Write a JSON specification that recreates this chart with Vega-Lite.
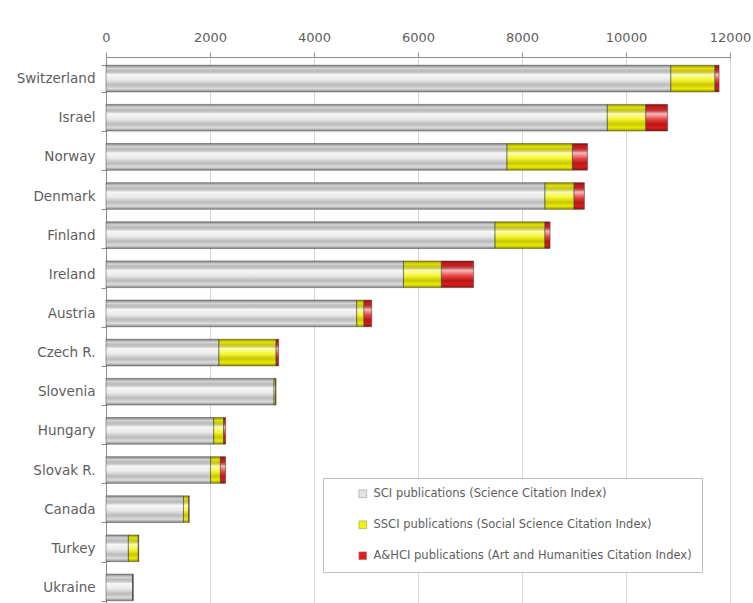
{
  "$schema": "https://vega.github.io/schema/vega-lite/v6.json",
  "width": 624,
  "height": 546,
  "autosize": "none",
  "padding": {"left": 106, "top": 57, "right": 23, "bottom": 0},
  "background": "white",
  "config": {
    "view": {"stroke": "#a6a6a6", "strokeWidth": 1},
    "font": "DejaVu Sans"
  },
  "data": {
    "values": [
      {"country": "Switzerland", "series": "SCI publications (Science Citation Index)", "value": 10860},
      {"country": "Switzerland", "series": "SSCI publications (Social Science Citation Index)", "value": 850},
      {"country": "Switzerland", "series": "A&HCI publications (Art and Humanities Citation Index)", "value": 80},
      {"country": "Israel", "series": "SCI publications (Science Citation Index)", "value": 9640},
      {"country": "Israel", "series": "SSCI publications (Social Science Citation Index)", "value": 740},
      {"country": "Israel", "series": "A&HCI publications (Art and Humanities Citation Index)", "value": 420},
      {"country": "Norway", "series": "SCI publications (Science Citation Index)", "value": 7710},
      {"country": "Norway", "series": "SSCI publications (Social Science Citation Index)", "value": 1260},
      {"country": "Norway", "series": "A&HCI publications (Art and Humanities Citation Index)", "value": 290},
      {"country": "Denmark", "series": "SCI publications (Science Citation Index)", "value": 8440},
      {"country": "Denmark", "series": "SSCI publications (Social Science Citation Index)", "value": 560},
      {"country": "Denmark", "series": "A&HCI publications (Art and Humanities Citation Index)", "value": 200},
      {"country": "Finland", "series": "SCI publications (Science Citation Index)", "value": 7480},
      {"country": "Finland", "series": "SSCI publications (Social Science Citation Index)", "value": 960},
      {"country": "Finland", "series": "A&HCI publications (Art and Humanities Citation Index)", "value": 100},
      {"country": "Ireland", "series": "SCI publications (Science Citation Index)", "value": 5720},
      {"country": "Ireland", "series": "SSCI publications (Social Science Citation Index)", "value": 730},
      {"country": "Ireland", "series": "A&HCI publications (Art and Humanities Citation Index)", "value": 620},
      {"country": "Austria", "series": "SCI publications (Science Citation Index)", "value": 4820},
      {"country": "Austria", "series": "SSCI publications (Social Science Citation Index)", "value": 140},
      {"country": "Austria", "series": "A&HCI publications (Art and Humanities Citation Index)", "value": 150},
      {"country": "Czech R.", "series": "SCI publications (Science Citation Index)", "value": 2170},
      {"country": "Czech R.", "series": "SSCI publications (Social Science Citation Index)", "value": 1100},
      {"country": "Czech R.", "series": "A&HCI publications (Art and Humanities Citation Index)", "value": 50},
      {"country": "Slovenia", "series": "SCI publications (Science Citation Index)", "value": 3230},
      {"country": "Slovenia", "series": "SSCI publications (Social Science Citation Index)", "value": 30},
      {"country": "Slovenia", "series": "A&HCI publications (Art and Humanities Citation Index)", "value": 10},
      {"country": "Hungary", "series": "SCI publications (Science Citation Index)", "value": 2070},
      {"country": "Hungary", "series": "SSCI publications (Social Science Citation Index)", "value": 190},
      {"country": "Hungary", "series": "A&HCI publications (Art and Humanities Citation Index)", "value": 40},
      {"country": "Slovak R.", "series": "SCI publications (Science Citation Index)", "value": 2010},
      {"country": "Slovak R.", "series": "SSCI publications (Social Science Citation Index)", "value": 190},
      {"country": "Slovak R.", "series": "A&HCI publications (Art and Humanities Citation Index)", "value": 100},
      {"country": "Canada", "series": "SCI publications (Science Citation Index)", "value": 1490},
      {"country": "Canada", "series": "SSCI publications (Social Science Citation Index)", "value": 100},
      {"country": "Canada", "series": "A&HCI publications (Art and Humanities Citation Index)", "value": 10},
      {"country": "Turkey", "series": "SCI publications (Science Citation Index)", "value": 430},
      {"country": "Turkey", "series": "SSCI publications (Social Science Citation Index)", "value": 190},
      {"country": "Turkey", "series": "A&HCI publications (Art and Humanities Citation Index)", "value": 10},
      {"country": "Ukraine", "series": "SCI publications (Science Citation Index)", "value": 510},
      {"country": "Ukraine", "series": "SSCI publications (Social Science Citation Index)", "value": 10},
      {"country": "Ukraine", "series": "A&HCI publications (Art and Humanities Citation Index)", "value": 0}
    ]
  },
  "transform": [
    {
      "calculate": "indexof(['SCI publications (Science Citation Index)', 'SSCI publications (Social Science Citation Index)', 'A&HCI publications (Art and Humanities Citation Index)'], datum.series)",
      "as": "ord"
    }
  ],
  "encoding": {
    "y": {
      "field": "country",
      "type": "nominal",
      "sort": null,
      "scale": {"range": [2, 550], "paddingInner": 0.32, "paddingOuter": 0.16},
      "axis": {
        "title": null,
        "tickBand": "extent",
        "tickSize": 5,
        "tickColor": "#8c8c8c",
        "domainColor": "#8c8c8c",
        "labelPadding": 6,
        "labelFont": "DejaVu Sans",
        "labelFontSize": 13.5,
        "labelColor": "#5e5e5e",
        "grid": false
      }
    },
    "x": {
      "field": "value",
      "type": "quantitative",
      "stack": "zero",
      "scale": {"domain": [0, 12000], "nice": false},
      "axis": {
        "orient": "top",
        "title": null,
        "values": [0, 2000, 4000, 6000, 8000, 10000, 12000],
        "format": "d",
        "labelFlush": false,
        "grid": true,
        "gridColor": "#d6d6d6",
        "tickSize": 5,
        "tickColor": "#8c8c8c",
        "domainColor": "#8c8c8c",
        "labelPadding": 8,
        "labelFont": "DejaVu Sans",
        "labelFontSize": 13,
        "labelColor": "#5e5e5e"
      }
    },
    "order": {"field": "ord", "type": "quantitative"}
  },
  "layer": [
    {
      "mark": {"type": "bar"},
      "encoding": {
        "color": {
          "field": "series",
          "type": "nominal",
          "sort": ["SCI publications (Science Citation Index)", "SSCI publications (Social Science Citation Index)", "A&HCI publications (Art and Humanities Citation Index)"],
          "scale": {
            "domain": ["SCI publications (Science Citation Index)", "SSCI publications (Social Science Citation Index)", "A&HCI publications (Art and Humanities Citation Index)"],
            "range": ["#e4e4e4", "#f4f400", "#e41c1c"]
          },
          "legend": {
            "title": null,
            "orient": "none",
            "legendX": 217,
            "legendY": 421,
            "padding": 10,
            "symbolOffset": 24,
            "rowPadding": 18,
            "strokeColor": "#bfbfbf",
            "fillColor": "white",
            "symbolType": "square",
            "symbolSize": 60,
            "symbolStrokeColor": "#888888",
            "symbolStrokeWidth": 0.5,
            "labelFont": "DejaVu Sans",
            "labelFontSize": 11.5,
            "labelColor": "#5e5e5e",
            "labelLimit": 420,
            "labelOffset": 5
          }
        }
      }
    },
    {
      "mark": {
        "type": "bar",
        "stroke": "rgba(70,70,70,0.5)",
        "strokeWidth": 1,
        "fill": {
          "gradient": "linear",
          "x1": 0, "y1": 0, "x2": 0, "y2": 1,
          "stops": [
            {"offset": 0, "color": "rgba(0,0,0,0.42)"},
            {"offset": 0.12, "color": "rgba(0,0,0,0.06)"},
            {"offset": 0.35, "color": "rgba(255,255,255,0.7)"},
            {"offset": 0.55, "color": "rgba(255,255,255,0.2)"},
            {"offset": 0.74, "color": "rgba(0,0,0,0.18)"},
            {"offset": 0.88, "color": "rgba(0,0,0,0.04)"},
            {"offset": 1, "color": "rgba(0,0,0,0.4)"}
          ]
        }
      },
      "encoding": {
        "detail": {"field": "series", "type": "nominal"}
      }
    }
  ]
}
